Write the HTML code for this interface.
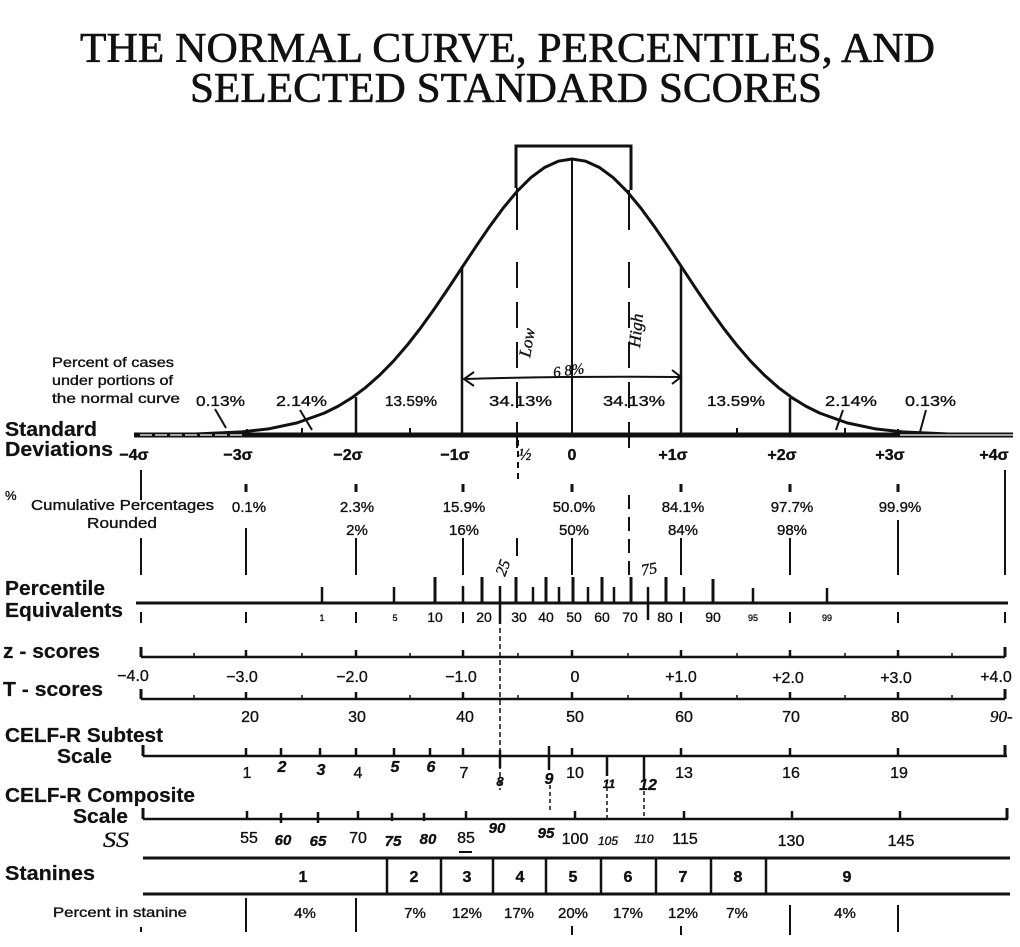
<!DOCTYPE html>
<html><head><meta charset="utf-8"><style>
html,body{margin:0;padding:0;background:#fff;}
svg{display:block;}
text{font-family:"Liberation Sans",sans-serif;fill:#111;stroke:#111;stroke-width:0.35px;}
.b{font-weight:bold;stroke-width:0.2px;}
.t{font-family:"Liberation Serif",serif;stroke-width:0.6px;}
.h{font-family:"Liberation Serif",serif;font-style:italic;}
</style></head><body>
<svg width="1020" height="947" viewBox="0 0 1020 947" xmlns="http://www.w3.org/2000/svg">
<rect width="1020" height="947" fill="#fff"/>
<!-- Title -->
<text class="t" x="80" y="62" font-size="42" textLength="855" lengthAdjust="spacingAndGlyphs">THE NORMAL CURVE, PERCENTILES, AND</text>
<text class="t" x="190" y="102" font-size="42" textLength="632" lengthAdjust="spacingAndGlyphs">SELECTED STANDARD SCORES</text>

<g stroke="#111" fill="none">
<!-- curve -->
<path stroke-width="3" stroke-linejoin="round" d="M143,435 L187,434.4 L242,431.9 L269.5,428.7 L297,422.9 L324.5,413.0 L338.25,406.1 L352,397.7 L365.75,387.4 L379.5,375.3 L393.25,361.3 L407,345.4 L420.75,327.8 L434.5,308.6 L448.25,288.4 L462,267.6 L475.75,246.8 L489.5,226.7 L503.25,208.0 L517,191.4 L530.75,177.7 L544.5,167.5 L558.25,161.2 L572,159 L585.75,161.2 L599.5,167.5 L613.25,177.7 L627,191.4 L640.75,208.0 L654.5,226.7 L668.25,246.8 L682,267.6 L695.75,288.4 L709.5,308.6 L723.25,327.8 L737,345.4 L750.75,361.3 L764.5,375.3 L778.25,387.4 L792,397.7 L805.75,406.1 L819.5,413.0 L847,422.9 L874.5,428.7 L902,431.9 L957,434.4 L1001,435"/>
<!-- verticals under curve -->
<line x1="356" y1="397" x2="356" y2="435" stroke-width="2.5"/>
<line x1="462" y1="266" x2="462" y2="435" stroke-width="2.5"/>
<line x1="572" y1="159" x2="572" y2="435" stroke-width="2"/>
<line x1="681" y1="266" x2="681" y2="435" stroke-width="2.5"/>
<line x1="790" y1="398" x2="790" y2="435" stroke-width="2.5"/>
<!-- box -->
<path d="M516,188 L516,146 L631,146 L631,190" stroke-width="3"/>
<line x1="517" y1="188" x2="517" y2="230" stroke-width="2"/>
<line x1="629" y1="190" x2="629" y2="230" stroke-width="2"/>
<line x1="517" y1="262" x2="517" y2="455" stroke-width="2" stroke-dasharray="26,14"/>
<line x1="629" y1="262" x2="629" y2="455" stroke-width="2" stroke-dasharray="26,14"/>
<!-- 68% arrow -->
<path d="M465,379 Q560,376 680,377" stroke-width="2"/>
<path d="M474,372 L464,379 L474,386" stroke-width="2"/>
<path d="M672,370 L681,377 L672,384" stroke-width="2"/>
<!-- axis -->
<rect x="134" y="432.5" width="879" height="5" fill="#111" stroke="none"/>
<line x1="140" y1="435" x2="245" y2="435" stroke="#fff" stroke-width="1.2" stroke-dasharray="12,3"/>
<line x1="900" y1="435" x2="1013" y2="435" stroke="#fff" stroke-width="1.2"/>
<g stroke-width="2">
<line x1="302" y1="428" x2="302" y2="433"/>
<line x1="410" y1="428" x2="410" y2="433"/>
<line x1="737" y1="428" x2="737" y2="433"/>
<line x1="845" y1="428" x2="845" y2="433"/>
<line x1="898" y1="429" x2="898" y2="433"/>
<line x1="247" y1="429" x2="247" y2="433"/>
</g>
<!-- percent pointers -->
<g stroke-width="2">
<line x1="215" y1="409" x2="226" y2="428"/>
<line x1="300" y1="410" x2="312" y2="430"/>
<line x1="843" y1="410" x2="836" y2="430"/>
<line x1="926" y1="410" x2="920" y2="432"/>
</g>
<!-- cumulative ticks -->
<g stroke-width="3">
<line x1="246" y1="484" x2="246" y2="492"/>
<line x1="356" y1="484" x2="356" y2="492"/>
<line x1="463" y1="484" x2="463" y2="492"/>
<line x1="572" y1="484" x2="572" y2="492"/>
<line x1="681" y1="484" x2="681" y2="492"/>
<line x1="790" y1="484" x2="790" y2="492"/>
<line x1="898" y1="484" x2="898" y2="492"/>
</g>
<g stroke-width="2">
<line x1="141" y1="470" x2="141" y2="500"/>
<line x1="1005" y1="470" x2="1005" y2="575"/>
<line x1="141" y1="538" x2="141" y2="575"/>
<line x1="246" y1="528" x2="246" y2="575"/>
<line x1="356" y1="538" x2="356" y2="575"/>
<line x1="463" y1="538" x2="463" y2="575"/>
<line x1="572" y1="538" x2="572" y2="575"/>
<line x1="681" y1="538" x2="681" y2="575"/>
<line x1="790" y1="538" x2="790" y2="575"/>
<line x1="898" y1="520" x2="898" y2="575"/>
<line x1="518" y1="440" x2="518" y2="480" stroke-dasharray="6,5"/>
<line x1="517" y1="538" x2="517" y2="556"/>
<line x1="629" y1="495" x2="629" y2="575" stroke-dasharray="14,8"/>
</g>
<!-- percentile line -->
<line x1="136" y1="603" x2="1008" y2="603" stroke-width="3"/>
<g stroke-width="3">
<line x1="435" y1="577" x2="435" y2="603"/>
<line x1="482" y1="577" x2="482" y2="603"/>
<line x1="516" y1="577" x2="516" y2="603"/>
<line x1="546" y1="577" x2="546" y2="603"/>
<line x1="573" y1="577" x2="573" y2="603"/>
<line x1="602" y1="577" x2="602" y2="603"/>
<line x1="631" y1="577" x2="631" y2="603"/>
<line x1="666" y1="577" x2="666" y2="603"/>
<line x1="713" y1="579" x2="713" y2="603"/>
</g>
<g stroke-width="2.5">
<line x1="322" y1="587" x2="322" y2="603"/>
<line x1="394" y1="587" x2="394" y2="603"/>
<line x1="463" y1="586" x2="463" y2="603"/>
<line x1="500" y1="586" x2="500" y2="624"/>
<line x1="533" y1="587" x2="533" y2="603"/>
<line x1="559" y1="587" x2="559" y2="603"/>
<line x1="588" y1="587" x2="588" y2="603"/>
<line x1="614" y1="587" x2="614" y2="603"/>
<line x1="648" y1="587" x2="648" y2="620"/>
<line x1="684" y1="587" x2="684" y2="603"/>
<line x1="753" y1="588" x2="753" y2="603"/>
<line x1="827" y1="588" x2="827" y2="603"/>
</g>
<g stroke-width="2">
<line x1="141" y1="612" x2="141" y2="623"/>
<line x1="246" y1="612" x2="246" y2="623"/>
<line x1="356" y1="612" x2="356" y2="623"/>
<line x1="463" y1="612" x2="463" y2="623"/>
<line x1="681" y1="612" x2="681" y2="623"/>
<line x1="790" y1="612" x2="790" y2="623"/>
<line x1="898" y1="612" x2="898" y2="623"/>
<line x1="1005" y1="612" x2="1005" y2="623"/>
</g>
<!-- dashed 25th line -->
<line x1="500" y1="628" x2="500" y2="790" stroke-width="1.5" stroke-dasharray="5,3"/>
<!-- z line -->
<line x1="141" y1="657" x2="1005" y2="657" stroke-width="2.5"/>
<line x1="141" y1="647" x2="141" y2="657" stroke-width="3"/>
<line x1="1005" y1="647" x2="1005" y2="657" stroke-width="3"/>
<g stroke-width="2.5">
<line x1="246" y1="650" x2="246" y2="657"/><line x1="356" y1="650" x2="356" y2="657"/><line x1="463" y1="650" x2="463" y2="657"/><line x1="572" y1="650" x2="572" y2="657"/><line x1="681" y1="650" x2="681" y2="657"/><line x1="790" y1="650" x2="790" y2="657"/><line x1="898" y1="650" x2="898" y2="657"/>
</g>
<g stroke-width="1.5">
<line x1="194" y1="653" x2="194" y2="657"/><line x1="302" y1="653" x2="302" y2="657"/><line x1="410" y1="653" x2="410" y2="657"/><line x1="518" y1="653" x2="518" y2="657"/><line x1="628" y1="653" x2="628" y2="657"/><line x1="737" y1="653" x2="737" y2="657"/><line x1="845" y1="653" x2="845" y2="657"/><line x1="952" y1="653" x2="952" y2="657"/>
</g>
<!-- T line -->
<line x1="141" y1="699" x2="1005" y2="699" stroke-width="2.5"/>
<line x1="141" y1="689" x2="141" y2="699" stroke-width="3"/>
<line x1="1005" y1="689" x2="1005" y2="699" stroke-width="3"/>
<g stroke-width="2.5">
<line x1="246" y1="692" x2="246" y2="699"/><line x1="356" y1="692" x2="356" y2="699"/><line x1="463" y1="692" x2="463" y2="699"/><line x1="572" y1="692" x2="572" y2="699"/><line x1="681" y1="692" x2="681" y2="699"/><line x1="790" y1="692" x2="790" y2="699"/><line x1="898" y1="692" x2="898" y2="699"/>
</g>
<g stroke-width="1.5">
<line x1="194" y1="695" x2="194" y2="699"/><line x1="302" y1="695" x2="302" y2="699"/><line x1="410" y1="695" x2="410" y2="699"/><line x1="518" y1="695" x2="518" y2="699"/><line x1="628" y1="695" x2="628" y2="699"/><line x1="737" y1="695" x2="737" y2="699"/><line x1="845" y1="695" x2="845" y2="699"/><line x1="952" y1="695" x2="952" y2="699"/>
</g>
<!-- subtest line -->
<line x1="143" y1="756" x2="1007" y2="756" stroke-width="2.5"/>
<line x1="143" y1="745" x2="143" y2="756" stroke-width="3"/>
<line x1="1005" y1="745" x2="1005" y2="756" stroke-width="3"/>
<g stroke-width="2.5">
<line x1="246" y1="748" x2="246" y2="756"/><line x1="281" y1="748" x2="281" y2="756"/><line x1="320" y1="748" x2="320" y2="756"/><line x1="356" y1="748" x2="356" y2="756"/><line x1="394" y1="748" x2="394" y2="756"/><line x1="430" y1="748" x2="430" y2="756"/><line x1="463" y1="748" x2="463" y2="756"/><line x1="572" y1="748" x2="572" y2="756"/><line x1="681" y1="748" x2="681" y2="756"/><line x1="790" y1="748" x2="790" y2="756"/><line x1="898" y1="748" x2="898" y2="756"/>
<line x1="500" y1="750" x2="500" y2="768"/>
<line x1="549" y1="746" x2="549" y2="770"/>
<line x1="607" y1="756" x2="607" y2="776"/>
<line x1="644" y1="756" x2="644" y2="780"/>
</g>
<g stroke-width="1.5" stroke-dasharray="4,3">
<line x1="550" y1="785" x2="550" y2="812"/>
<line x1="607" y1="780" x2="607" y2="818"/>
<line x1="644" y1="784" x2="644" y2="818"/>
</g>
<!-- composite line -->
<line x1="143" y1="819" x2="1008" y2="819" stroke-width="2.5"/>
<line x1="143" y1="808" x2="143" y2="819" stroke-width="3"/>
<line x1="1007" y1="808" x2="1007" y2="819" stroke-width="3"/>
<g stroke-width="2.5">
<line x1="247" y1="811" x2="247" y2="819"/><line x1="281" y1="813" x2="281" y2="823"/><line x1="318" y1="812" x2="318" y2="823"/><line x1="358" y1="811" x2="358" y2="819"/><line x1="392" y1="813" x2="392" y2="821"/><line x1="424" y1="813" x2="424" y2="821"/><line x1="466" y1="811" x2="466" y2="819"/><line x1="575" y1="811" x2="575" y2="819"/><line x1="684" y1="811" x2="684" y2="819"/><line x1="792" y1="811" x2="792" y2="819"/><line x1="900" y1="811" x2="900" y2="819"/>
</g>
<line x1="459" y1="852" x2="472" y2="852" stroke-width="2"/>
<!-- stanines -->
<line x1="143" y1="858" x2="1010" y2="858" stroke-width="3"/>
<line x1="143" y1="894" x2="1010" y2="894" stroke-width="3"/>
<g stroke-width="2.5">
<line x1="387" y1="858" x2="387" y2="894"/><line x1="441" y1="858" x2="441" y2="894"/><line x1="493" y1="858" x2="493" y2="894"/><line x1="546" y1="858" x2="546" y2="894"/><line x1="601" y1="858" x2="601" y2="894"/><line x1="656" y1="858" x2="656" y2="894"/><line x1="711" y1="858" x2="711" y2="894"/><line x1="766" y1="858" x2="766" y2="894"/>
</g>
<g stroke-width="2">
<line x1="246" y1="898" x2="246" y2="932"/><line x1="356" y1="898" x2="356" y2="932"/><line x1="790" y1="905" x2="790" y2="935"/><line x1="898" y1="905" x2="898" y2="932"/><line x1="572" y1="926" x2="572" y2="935"/><line x1="681" y1="926" x2="681" y2="935"/><line x1="141" y1="927" x2="141" y2="932"/>
</g>
</g>

<!-- labels -->
<text x="52" y="367" font-size="14" textLength="122" lengthAdjust="spacingAndGlyphs">Percent of cases</text>
<text x="52" y="385" font-size="14" textLength="121" lengthAdjust="spacingAndGlyphs">under portions of</text>
<text x="52" y="403" font-size="14" textLength="128" lengthAdjust="spacingAndGlyphs">the normal curve</text>
<g font-size="15">
<text x="196" y="406" textLength="49" lengthAdjust="spacingAndGlyphs">0.13%</text>
<text x="276" y="406" textLength="51" lengthAdjust="spacingAndGlyphs">2.14%</text>
<text x="385" y="406" textLength="52" lengthAdjust="spacingAndGlyphs">13.59%</text>
<text x="489" y="406" textLength="63" lengthAdjust="spacingAndGlyphs">34.13%</text>
<text x="603" y="406" textLength="62" lengthAdjust="spacingAndGlyphs">34.13%</text>
<text x="707" y="406" textLength="58" lengthAdjust="spacingAndGlyphs">13.59%</text>
<text x="825" y="406" textLength="52" lengthAdjust="spacingAndGlyphs">2.14%</text>
<text x="905" y="406" textLength="51" lengthAdjust="spacingAndGlyphs">0.13%</text>
</g>
<text class="h" x="0" y="0" font-size="17" transform="translate(530,358) rotate(-80)">Low</text>
<text class="h" x="0" y="0" font-size="17" transform="translate(640,348) rotate(-85)">High</text>
<text class="h" x="553" y="375" font-size="15" transform="rotate(-8 570 370)">6 8%</text>

<text class="b" x="5" y="436" font-size="20" textLength="92" lengthAdjust="spacingAndGlyphs">Standard</text>
<text class="b" x="5" y="456" font-size="20" textLength="108" lengthAdjust="spacingAndGlyphs">Deviations</text>
<g font-size="16" class="b" text-anchor="middle">
<text x="134" y="460">−4σ</text>
<text x="238" y="460">−3σ</text>
<text x="348" y="460">−2σ</text>
<text x="455" y="460">−1σ</text>
<text x="572" y="460">0</text>
<text x="673" y="460">+1σ</text>
<text x="782" y="460">+2σ</text>
<text x="890" y="460">+3σ</text>
<text x="994" y="460">+4σ</text>
</g>
<text class="h" x="525" y="460" font-size="17" text-anchor="middle">½</text>

<text x="5" y="500" font-size="13">%</text>
<text x="31" y="510" font-size="15" textLength="183" lengthAdjust="spacingAndGlyphs">Cumulative Percentages</text>
<text x="87" y="528" font-size="15" textLength="70" lengthAdjust="spacingAndGlyphs">Rounded</text>
<g font-size="15" text-anchor="middle">
<text x="249" y="512">0.1%</text>
<text x="357" y="512">2.3%</text>
<text x="357" y="535">2%</text>
<text x="464" y="512">15.9%</text>
<text x="464" y="535">16%</text>
<text x="574" y="512">50.0%</text>
<text x="574" y="535">50%</text>
<text x="683" y="512">84.1%</text>
<text x="683" y="535">84%</text>
<text x="792" y="512">97.7%</text>
<text x="792" y="535">98%</text>
<text x="900" y="512">99.9%</text>
</g>

<text class="b" x="5" y="595" font-size="20" textLength="100" lengthAdjust="spacingAndGlyphs">Percentile</text>
<text class="b" x="5" y="617" font-size="20" textLength="118" lengthAdjust="spacingAndGlyphs">Equivalents</text>
<g font-size="14" text-anchor="middle">
<text x="322" y="621" font-size="9">1</text>
<text x="395" y="621" font-size="9">5</text>
<text x="435" y="622">10</text>
<text x="484" y="622">20</text>
<text x="519" y="622">30</text>
<text x="546" y="622">40</text>
<text x="574" y="622">50</text>
<text x="602" y="622">60</text>
<text x="630" y="622">70</text>
<text x="665" y="622">80</text>
<text x="713" y="622">90</text>
<text x="753" y="621" font-size="9">95</text>
<text x="827" y="621" font-size="9">99</text>
</g>
<text class="h" x="0" y="0" font-size="16" transform="translate(505,577) rotate(-70)">25</text>
<text class="h" x="641" y="574" font-size="16" transform="rotate(-10 650 568)">75</text>

<text class="b" x="3" y="658" font-size="20" textLength="97" lengthAdjust="spacingAndGlyphs">z - scores</text>
<text class="b" x="3" y="696" font-size="20" textLength="100" lengthAdjust="spacingAndGlyphs">T - scores</text>
<g font-size="16" text-anchor="middle">
<text x="133" y="681">−4.0</text>
<text x="242" y="682">−3.0</text>
<text x="352" y="682">−2.0</text>
<text x="461" y="682">−1.0</text>
<text x="575" y="682">0</text>
<text x="681" y="682">+1.0</text>
<text x="788" y="683">+2.0</text>
<text x="896" y="683">+3.0</text>
<text x="996" y="682">+4.0</text>
<text x="250" y="722">20</text>
<text x="357" y="722">30</text>
<text x="465" y="722">40</text>
<text x="575" y="722">50</text>
<text x="684" y="722">60</text>
<text x="791" y="722">70</text>
<text x="900" y="722">80</text>
</g>
<text class="h" x="990" y="722" font-size="17">90-</text>

<text class="b" x="5" y="742" font-size="20" textLength="158" lengthAdjust="spacingAndGlyphs">CELF-R Subtest</text>
<text class="b" x="57" y="763" font-size="20" textLength="55" lengthAdjust="spacingAndGlyphs">Scale</text>
<g font-size="16" text-anchor="middle">
<text x="247" y="778">1</text>
<text x="358" y="778">4</text>
<text x="464" y="778">7</text>
<text x="575" y="778">10</text>
<text x="684" y="778">13</text>
<text x="791" y="778">16</text>
<text x="899" y="778">19</text>
</g>
<g class="h" font-size="16" text-anchor="middle" font-weight="bold">
<text x="282" y="772">2</text>
<text x="321" y="775">3</text>
<text x="395" y="772">5</text>
<text x="431" y="772">6</text>
<text x="500" y="786" font-size="13">8</text>
<text x="549" y="784">9</text>
<text x="609" y="788" font-size="12">11</text>
<text x="648" y="790">12</text>
</g>

<text class="b" x="5" y="802" font-size="20" textLength="190" lengthAdjust="spacingAndGlyphs">CELF-R Composite</text>
<text class="b" x="73" y="823" font-size="20" textLength="55" lengthAdjust="spacingAndGlyphs">Scale</text>
<text class="h" x="103" y="847" font-size="22" textLength="26" lengthAdjust="spacingAndGlyphs">SS</text>
<g font-size="16" text-anchor="middle">
<text x="249" y="843">55</text>
<text x="358" y="843">70</text>
<text x="466" y="843">85</text>
<text x="575" y="844">100</text>
<text x="685" y="844">115</text>
<text x="791" y="846">130</text>
<text x="901" y="846">145</text>
</g>
<g class="h" font-size="15" text-anchor="middle" font-weight="bold">
<text x="283" y="845">60</text>
<text x="318" y="846">65</text>
<text x="393" y="846">75</text>
<text x="428" y="844">80</text>
<text x="497" y="833">90</text>
<text x="546" y="838">95</text>
<text x="608" y="845" font-size="12" font-weight="normal">105</text>
<text x="644" y="843" font-size="12" font-weight="normal">110</text>
</g>

<text class="b" x="5" y="880" font-size="20" textLength="90" lengthAdjust="spacingAndGlyphs">Stanines</text>
<g font-size="16" class="b" text-anchor="middle">
<text x="303" y="882">1</text>
<text x="414" y="882">2</text>
<text x="467" y="882">3</text>
<text x="520" y="882">4</text>
<text x="573" y="882">5</text>
<text x="628" y="882">6</text>
<text x="683" y="882">7</text>
<text x="738" y="882">8</text>
<text x="847" y="882">9</text>
</g>
<text x="53" y="917" font-size="14" textLength="134" lengthAdjust="spacingAndGlyphs">Percent in stanine</text>
<g font-size="15" text-anchor="middle">
<text x="305" y="918">4%</text>
<text x="415" y="918">7%</text>
<text x="467" y="918">12%</text>
<text x="519" y="918">17%</text>
<text x="573" y="918">20%</text>
<text x="628" y="918">17%</text>
<text x="683" y="918">12%</text>
<text x="737" y="918">7%</text>
<text x="845" y="918">4%</text>
</g>
</svg>
</body></html>
